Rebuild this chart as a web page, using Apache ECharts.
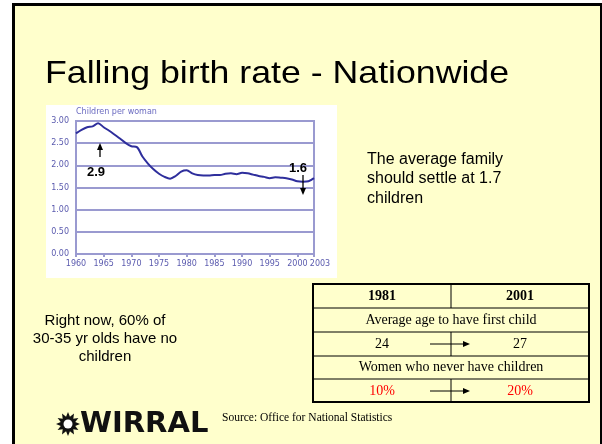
<!DOCTYPE html>
<html>
<head>
<meta charset="utf-8">
<script src="https://cdn.jsdelivr.net/npm/echarts@6/dist/echarts.min.js"></script>
<style>
  html, body { margin: 0; padding: 0; background: #fff; }
  #main { width: 602px; height: 444px; }
</style>
</head>
<body>
<div id="main"></div>
<script>
// 数据
const years = [];
for (let y = 1960; y <= 2003; y++) years.push(String(y));
const rates = [2.72, 2.80, 2.86, 2.88, 2.95, 2.86, 2.78, 2.69, 2.60, 2.50,
               2.43, 2.41, 2.20, 2.04, 1.91, 1.81, 1.74, 1.70, 1.76, 1.86,
               1.89, 1.82, 1.78, 1.77, 1.77, 1.78, 1.78, 1.81, 1.82, 1.80,
               1.83, 1.82, 1.79, 1.76, 1.74, 1.71, 1.73, 1.72, 1.71, 1.68,
               1.64, 1.63, 1.64, 1.71];
const tableHead = ['1981', '2001'];
const ageRow = ['24', '27'];
const childlessRow = ['10%', '20%'];

const axisBlue = '#9a9ad0';
const labelBlue = '#5a5aae';
const serif = '"Liberation Serif", "Times New Roman", serif';
const sans = '"Liberation Sans", Arial, sans-serif';

const chart = echarts.init(document.querySelector('#main'));

// 文本
function txt(text, x, y, font, fill, align) {
    return {
        type: 'text', z: 50,
        style: {
            text: text, x: x, y: y, font: font, fill: fill || '#000',
            align: align || 'left', verticalAlign: 'middle',
            textAlign: align || 'left', textVerticalAlign: 'middle'
        }
    };
}
function line(x1, y1, x2, y2, w) {
    return {
        type: 'line', z: 40,
        shape: { x1: x1, y1: y1, x2: x2, y2: y2 },
        style: { stroke: '#000', lineWidth: w || 1 }
    };
}
function head(x, y, dir) {
    // 箭头
    let pts;
    if (dir === 'up') pts = [[x, y], [x - 3, y + 7], [x + 3, y + 7]];
    else if (dir === 'down') pts = [[x, y], [x - 3, y - 7], [x + 3, y - 7]];
    else pts = [[x, y], [x - 7, y - 3], [x - 7, y + 3]];
    return { type: 'polygon', z: 40, shape: { points: pts }, style: { fill: '#000' } };
}

// 标志齿轮
const gear = [];
for (let i = 0; i < 24; i++) {
    const a = i * Math.PI / 12;
    const r = i % 2 === 0 ? 12 : 7.5;
    gear.push([68 + r * Math.cos(a), 424 + r * Math.sin(a)]);
}

const title = txt('Falling birth rate - Nationwide', 45, 74, '32px ' + sans, '#000');
title.scaleX = 1.115;
title.originX = 45;
title.originY = 74;

const elements = [
    // 幻灯片背景
    { type: 'rect', z: -20, shape: { x: 13.5, y: 4.5, width: 588, height: 460 },
      style: { fill: '#ffffcc', stroke: '#000', lineWidth: 3 } },
    // 图片白底
    { type: 'rect', z: -10, shape: { x: 46, y: 105, width: 291, height: 173 },
      style: { fill: '#fff' } },
    title,
    txt('Children per woman', 76, 112, '8px "DejaVu Sans"', '#6a6ac0'),
    // 标注
    txt('2.9', 96, 172, 'bold 13px ' + sans, '#000', 'center'),
    line(100, 157, 100, 148, 1.3), head(100, 143, 'up'),
    txt('1.6', 298, 168, 'bold 13px ' + sans, '#000', 'center'),
    line(303, 175, 303, 190, 1.3), head(303, 195, 'down'),
    // 右侧说明
    txt('The average family', 367, 160, '16px ' + sans),
    txt('should settle at 1.7', 367, 179, '16px ' + sans),
    txt('children', 367, 199, '16px ' + sans),
    // 左侧说明
    txt('Right now, 60% of', 105, 321, '15px ' + sans, '#000', 'center'),
    txt('30-35 yr olds have no', 105, 339, '15px ' + sans, '#000', 'center'),
    txt('children', 105, 357, '15px ' + sans, '#000', 'center'),
    // 表格
    { type: 'rect', z: 40, shape: { x: 313, y: 284, width: 276, height: 118 },
      style: { fill: 'none', stroke: '#000', lineWidth: 2 } },
    line(313, 308, 589, 308), line(313, 332, 589, 332),
    line(313, 356, 589, 356), line(313, 379, 589, 379),
    line(451, 284, 451, 308), line(451, 332, 451, 356), line(451, 379, 451, 402),
    txt(tableHead[0], 382, 296, 'bold 14px ' + serif, '#000', 'center'),
    txt(tableHead[1], 520, 296, 'bold 14px ' + serif, '#000', 'center'),
    txt('Average age to have first child', 451, 320, '14px ' + serif, '#000', 'center'),
    txt(ageRow[0], 382, 344, '14px ' + serif, '#000', 'center'),
    txt(ageRow[1], 520, 344, '14px ' + serif, '#000', 'center'),
    line(430, 344, 466, 344), head(470, 344, 'right'),
    txt('Women who never have children', 451, 367.5, '14px ' + serif, '#000', 'center'),
    txt(childlessRow[0], 382, 391, '14px ' + serif, '#ff0000', 'center'),
    txt(childlessRow[1], 520, 391, '14px ' + serif, '#ff0000', 'center'),
    line(430, 391, 466, 391), head(470, 391, 'right'),
    // 标志
    { type: 'polygon', z: 40, shape: { points: gear }, style: { fill: '#111' } },
    { type: 'circle', z: 41, shape: { cx: 68, cy: 424, r: 4.5 }, style: { fill: '#fff' } },
    txt('WIRRAL', 80, 424, 'bold 29px "DejaVu Sans"', '#111'),
    txt('Source: Office for National Statistics', 222, 418, '11.5px ' + serif)
];

const showYear = (idx, val) => Number(val) % 5 === 0 || val === '2003';

chart.setOption({
    animation: false,
    graphic: { elements: elements },
    grid: {
        left: 76, top: 121, width: 238, height: 133,
        show: true, borderColor: axisBlue, borderWidth: 2
    },
    xAxis: {
        type: 'category',
        data: years,
        boundaryGap: false,
        axisLine: { lineStyle: { color: axisBlue, width: 2 } },
        axisTick: { interval: showYear, length: 3, lineStyle: { color: axisBlue, width: 2 } },
        axisLabel: {
            interval: showYear, color: labelBlue, fontSize: 8,
            fontFamily: 'DejaVu Sans', margin: 6,
            showMaxLabel: true, hideOverlap: false,
            formatter: v => v === '2003' ? '{r|2003}' : v,
            rich: { r: { color: labelBlue, fontSize: 8, fontFamily: 'DejaVu Sans', padding: [0, 0, 0, 12] } }
        },
        splitLine: { show: false }
    },
    yAxis: {
        type: 'value',
        min: 0, max: 3, interval: 0.5,
        axisLine: { show: true, lineStyle: { color: axisBlue, width: 2 } },
        axisTick: { show: false },
        axisLabel: {
            color: labelBlue, fontSize: 8, fontFamily: 'DejaVu Sans', margin: 7,
            formatter: v => v.toFixed(2)
        },
        splitLine: { lineStyle: { color: axisBlue, width: 2 } }
    },
    series: [
        {
            type: 'line',
            data: rates,
            smooth: 0.3,
            symbol: 'none',
            lineStyle: { color: '#2e2e9c', width: 2 }
        }
    ]
});
</script>
</body>
</html>
